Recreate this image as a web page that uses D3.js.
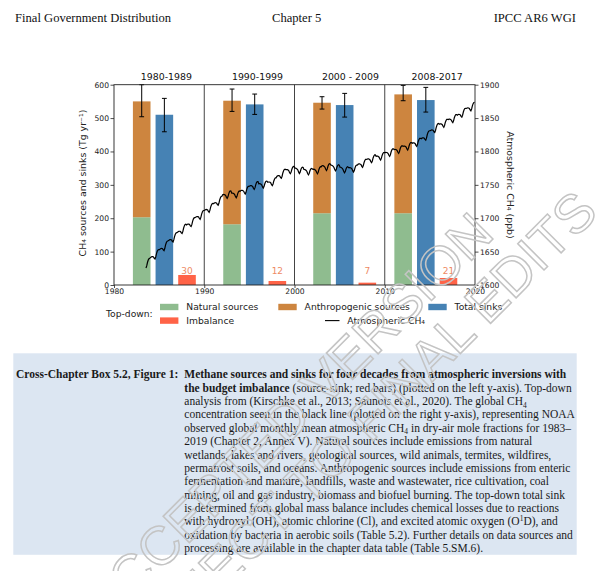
<!DOCTYPE html>
<html><head><meta charset="utf-8">
<script src="https://cdn.jsdelivr.net/npm/d3@7"></script>
<style>body{margin:0;background:#fff}svg{display:block}</style>
</head><body><svg id="c" width="600" height="571"></svg>
<script>
// ---------------- data ----------------
const periods = ["1980-1989", "1990-1999", "2000 - 2009", "2008-2017"];
const natural = [203, 182, 215, 215];
const sourcesTotal = [550, 552, 546, 571];
const sourcesErr = [[504, 600], [520, 587], [527, 564], [552, 598]];
const sinks = [510, 541, 539, 554];
const sinksErr = [[459, 559], [511, 572], [503, 574], [518, 592]];
const imbalance = [30, 12, 7, 21];
const barYear = [1983.07, 1993.08, 2003.05, 2012.04];   // centre of the sources bar
const titleYear = [1985.8, 1995.9, 2006.2, 2015.8];
const dividers = [1990, 2000, 2010];
const xTicks = [1980, 1990, 2000, 2010, 2020];
const yTicks = [0, 100, 200, 300, 400, 500, 600];
const yRTicks = [1600, 1650, 1700, 1750, 1800, 1850, 1900];
const ch4Start = [1983, 7]; // first month of the monthly record
const ch4Monthly = [
  1625.5, 1628.6, 1633.7, 1637.3, 1639.4, 1640,
  1641, 1642, 1642.5, 1642.5, 1642, 1640, 1639, 1642, 1647, 1650.5, 1652.5, 1653,
  1653, 1654.1, 1654.7, 1654.8, 1654.4, 1652.5, 1651.5, 1654.6, 1659.7, 1663.3, 1665.4, 1666,
  1666.5, 1667.5, 1668, 1668, 1667.5, 1665.5, 1664.5, 1667.5, 1672.5, 1676, 1678, 1678.5,
  1679, 1680, 1680.5, 1680.5, 1680, 1678, 1677, 1680, 1685, 1688.5, 1690.5, 1691,
  1690, 1690.9, 1691.3, 1691.2, 1690.6, 1688.5, 1687.5, 1690.4, 1695.3, 1698.7, 1700.6, 1701,
  1701.4, 1702.3, 1702.6, 1702.4, 1701.8, 1699.6, 1698.4, 1701.3, 1706.1, 1709.4, 1711.3, 1711.6,
  1711.9, 1712.8, 1713.1, 1712.9, 1712.3, 1710.1, 1708.9, 1711.8, 1716.6, 1719.9, 1721.8, 1722.1,
  1722, 1722.9, 1723.3, 1723.2, 1722.6, 1720.5, 1719.5, 1722.4, 1727.3, 1730.7, 1732.6, 1733,
  1735.2, 1735.6, 1735.5, 1735, 1733.9, 1731.3, 1729.7, 1732.1, 1736.5, 1739.5, 1740.9, 1740.8,
  1737.6, 1737.8, 1737.4, 1736.6, 1735.3, 1732.4, 1730.6, 1732.8, 1736.9, 1739.6, 1740.8, 1740.4,
  1741.3, 1741.8, 1741.8, 1741.3, 1740.3, 1737.8, 1736.3, 1738.8, 1743.3, 1746.3, 1747.8, 1747.8,
  1748.3, 1748.8, 1748.8, 1748.3, 1747.3, 1744.8, 1743.3, 1745.8, 1750.3, 1753.3, 1754.8, 1754.8,
  1751.6, 1751.9, 1751.6, 1750.9, 1749.6, 1746.9, 1745.1, 1747.4, 1751.6, 1754.4, 1755.6, 1755.4,
  1753.8, 1754.3, 1754.3, 1753.8, 1752.8, 1750.3, 1748.8, 1751.3, 1755.8, 1758.8, 1760.3, 1760.3,
  1762.5, 1763.4, 1763.8, 1763.7, 1763.1, 1761, 1760, 1762.9, 1767.8, 1771.2, 1773.1, 1773.5,
  1772.7, 1773, 1772.8, 1772.2, 1771, 1768.3, 1766.7, 1769, 1773.3, 1776.2, 1777.5, 1777.3,
  1775, 1775, 1774.5, 1773.5, 1772, 1769, 1767, 1769, 1773, 1775.5, 1776.5, 1776,
  1773, 1773, 1772.5, 1771.5, 1770, 1767, 1765, 1767, 1771, 1773.5, 1774.5, 1774,
  1773.1, 1773.4, 1773.1, 1772.4, 1771.1, 1768.4, 1766.6, 1768.9, 1773.1, 1775.9, 1777.1, 1776.9,
  1778.6, 1778.8, 1778.4, 1777.6, 1776.3, 1773.4, 1771.6, 1773.8, 1777.9, 1780.6, 1781.8, 1781.4,
  1779.5, 1779.4, 1778.8, 1777.7, 1776.1, 1773, 1771, 1772.9, 1776.8, 1779.2, 1780.1, 1779.5,
  1776.5, 1776.4, 1775.8, 1774.7, 1773.1, 1770, 1768, 1769.9, 1773.8, 1776.2, 1777.1, 1776.5,
  1775.6, 1775.9, 1775.6, 1774.9, 1773.6, 1770.9, 1769.1, 1771.4, 1775.6, 1778.4, 1779.6, 1779.4,
  1780.8, 1781.4, 1781.5, 1781, 1780.1, 1777.7, 1776.3, 1778.9, 1783.5, 1786.5, 1788.1, 1788.2,
  1788.3, 1788.8, 1788.8, 1788.3, 1787.3, 1784.8, 1783.3, 1785.8, 1790.3, 1793.3, 1794.8, 1794.8,
  1792.7, 1793.1, 1793, 1792.5, 1791.4, 1788.8, 1787.2, 1789.6, 1794, 1797, 1798.4, 1798.3,
  1798.2, 1798.6, 1798.5, 1798, 1796.9, 1794.3, 1792.7, 1795.1, 1799.5, 1802.5, 1803.9, 1803.8,
  1802.7, 1803.1, 1803, 1802.5, 1801.4, 1798.8, 1797.2, 1799.6, 1804, 1807, 1808.4, 1808.3,
  1807.7, 1808.1, 1808, 1807.5, 1806.4, 1803.8, 1802.2, 1804.6, 1809, 1812, 1813.4, 1813.3,
  1812.3, 1812.9, 1813, 1812.5, 1811.6, 1809.2, 1807.8, 1810.4, 1815, 1818, 1819.6, 1819.7,
  1819, 1820, 1820.5, 1820.5, 1820, 1818, 1817, 1820, 1825, 1828.5, 1830.5, 1831,
  1831, 1831.9, 1832.3, 1832.2, 1831.6, 1829.5, 1828.5, 1831.4, 1836.3, 1839.7, 1841.6, 1842,
  1840.8, 1841.4, 1841.5, 1841, 1840.1, 1837.7, 1836.3, 1838.9, 1843.5, 1846.5, 1848.1, 1848.2,
  1847.8, 1848.4, 1848.5, 1848, 1847.1, 1844.7, 1843.3, 1845.9, 1850.5, 1853.5, 1855.1, 1855.2,
  1854.4, 1855.3, 1855.6, 1855.4, 1854.8, 1852.6, 1851.4, 1854.3, 1859.1, 1862.4, 1864.3, 1864.6,
  1864.4, 1865.1, 1865.4, 1865.1, 1864.4, 1862.1, 1860.9, 1863.6, 1868.4, 1871.6, 1873.4, 1873.6
];
const legendItems = [
  {label: "Natural sources", key: "natural"},
  {label: "Anthropogenic sources", key: "anthro"},
  {label: "Total sinks", key: "sinks"},
  {label: "Imbalance", key: "imb"},
  {label: "Atmospheric CH\u2084", key: "line"}
];
const colors = {natural: "#8fbc8f", anthro: "#cd853f", sinks: "#4682b4", imb: "#ff6347", imbText: "#ee8a64", line: "#000"};

const headerTexts = ["Final Government Distribution", "Chapter 5", "IPCC AR6 WGI"];
const captionLabel = "Cross-Chapter Box 5.2, Figure 1:";
const captionLines = [
  [["Methane sources and sinks for four decades from atmospheric inversions with", "b"]],
  [["the budget imbalance", "b"], [" (source-sink; red bars) (plotted on the left y-axis). Top-down", "n"]],
  [["analysis from (Kirschke et al., 2013; Saunois et al., 2020). The global CH", "n"], ["4", "sub"]],
  [["concentration seen in the black line (plotted on the right y-axis), representing NOAA", "n"]],
  [["observed global monthly mean atmospheric CH", "n"], ["4", "sub"], [" in dry-air mole fractions for 1983\u2013", "n"]],
  [["2019 (Chapter 2, Annex V). Natural sources include emissions from natural", "n"]],
  [["wetlands, lakes and rivers, geological sources, wild animals, termites, wildfires,", "n"]],
  [["permafrost soils, and oceans. Anthropogenic sources include emissions from enteric", "n"]],
  [["fermentation and manure, landfills, waste and wastewater, rice cultivation, coal", "n"]],
  [["mining, oil and gas industry, biomass and biofuel burning. The top-down total sink", "n"]],
  [["is determined from global mass balance includes chemical losses due to reactions", "n"]],
  [["with hydroxyl (OH), atomic chlorine (Cl), and excited atomic oxygen (O", "n"], ["1", "sup"], ["D), and", "n"]],
  [["oxidation by bacteria in aerobic soils (Table 5.2). Further details on data sources and", "n"]],
  [["processing are available in the chapter data table (Table 5.SM.6).", "n"]]
];
const watermark = ["ACCEPTED VERSION", "SUBJECT TO FINAL EDITS"];

// ---------------- drawing ----------------
const svg = d3.select("#c");
svg.append("rect").attr("width", 600).attr("height", 571).attr("fill", "#fff");
const SANS = "DejaVu Sans, sans-serif";
const SERIF = "Liberation Serif, Times New Roman, serif";

// header
const hdr = svg.append("g").attr("font-family", SERIF).attr("font-size", 12.6).attr("fill", "#111");
hdr.append("text").attr("x", 15).attr("y", 22.3).text(headerTexts[0]);
hdr.append("text").attr("x", 272).attr("y", 22.3).text(headerTexts[1]);
hdr.append("text").attr("x", 576).attr("y", 22.3).attr("text-anchor", "end").text(headerTexts[2]);

const x = d3.scaleLinear().domain([1980, 2020]).range([114, 475]);
const yL = d3.scaleLinear().domain([0, 600]).range([285, 84.7]);
const yR = d3.scaleLinear().domain([1600, 1900]).range([285, 84.7]);
const barW = x(1981.95) - x(1980);
const step = 2.51;

const plot = svg.append("g");
// bars
periods.forEach((p, i) => {
  const cx = barYear[i];
  plot.append("rect").attr("x", x(cx) - barW / 2).attr("width", barW)
    .attr("y", yL(natural[i])).attr("height", yL(0) - yL(natural[i])).attr("fill", colors.natural);
  plot.append("rect").attr("x", x(cx) - barW / 2).attr("width", barW)
    .attr("y", yL(sourcesTotal[i])).attr("height", yL(natural[i]) - yL(sourcesTotal[i])).attr("fill", colors.anthro);
  plot.append("rect").attr("x", x(cx + step) - barW / 2).attr("width", barW)
    .attr("y", yL(sinks[i])).attr("height", yL(0) - yL(sinks[i])).attr("fill", colors.sinks);
  plot.append("rect").attr("x", x(cx + 2 * step) - barW / 2).attr("width", barW)
    .attr("y", yL(imbalance[i])).attr("height", yL(0) - yL(imbalance[i])).attr("fill", colors.imb);
  // error bars
  [[cx, sourcesErr[i]], [cx + step, sinksErr[i]]].forEach(([c, e]) => {
    const g = plot.append("g").attr("stroke", "#000").attr("stroke-width", 1);
    g.append("line").attr("x1", x(c)).attr("x2", x(c)).attr("y1", yL(e[0])).attr("y2", yL(e[1]));
    e.forEach(v => g.append("line").attr("x1", x(c) - 2.4).attr("x2", x(c) + 2.4).attr("y1", yL(v)).attr("y2", yL(v)));
  });
  // imbalance label
  plot.append("text").attr("x", x(cx + 2 * step)).attr("y", yL(30) - 0.5)
    .attr("text-anchor", "middle").attr("font-family", SANS).attr("font-size", 9)
    .attr("fill", colors.imbText).text(imbalance[i]);
  // period title
  plot.append("text").attr("x", x(titleYear[i])).attr("y", 80)
    .attr("text-anchor", "middle").attr("font-family", SANS).attr("font-size", 9.4)
    .attr("fill", "#111").text(p);
});

// dividers
dividers.forEach(d => plot.append("line").attr("x1", x(d)).attr("x2", x(d))
  .attr("y1", yL(0)).attr("y2", yL(600)).attr("stroke", "#444").attr("stroke-width", 1));

// CH4 line
const ch4 = ch4Monthly.map((v, i) => [ch4Start[0] + (ch4Start[1] - 1 + i + 0.5) / 12, v]);
plot.append("path").datum(ch4)
  .attr("d", d3.line().x(d => x(d[0])).y(d => yR(d[1])))
  .attr("fill", "none").attr("stroke", colors.line).attr("stroke-width", 1.2);

// frame
plot.append("rect").attr("x", x(1980)).attr("y", yL(600))
  .attr("width", x(2020) - x(1980)).attr("height", yL(0) - yL(600))
  .attr("fill", "none").attr("stroke", "#222").attr("stroke-width", 0.9);

function styleAxis(g) {
  g.select(".domain").remove();
  g.selectAll("text").attr("font-family", SANS).attr("font-size", 7.6).attr("fill", "#222");
  g.selectAll("line").attr("stroke", "#222").attr("stroke-width", 0.8);
}
svg.append("g").attr("transform", `translate(${x(1980)},0)`)
  .call(d3.axisLeft(yL).tickValues(yTicks).tickFormat(d3.format("d")).tickSize(3.5).tickPadding(1.5)).call(styleAxis);
svg.append("g").attr("transform", `translate(${x(2020)},0)`)
  .call(d3.axisRight(yR).tickValues(yRTicks).tickFormat(d3.format("d")).tickSize(3.5).tickPadding(1.5)).call(styleAxis);
svg.append("g").attr("transform", `translate(0,${yL(0)})`)
  .call(d3.axisBottom(x).tickValues(xTicks).tickFormat(d3.format("d")).tickSize(3).tickPadding(0.5)).call(styleAxis);

// axis titles
svg.append("text").attr("transform", `translate(86,183) rotate(-90)`)
  .attr("text-anchor", "middle").attr("font-family", SANS).attr("font-size", 9.4).attr("fill", "#222")
  .text("CH\u2084 sources and sinks (Tg yr\u207B\u00B9)");
svg.append("text").attr("transform", `translate(506.5,185) rotate(90)`)
  .attr("text-anchor", "middle").attr("font-family", SANS).attr("font-size", 9.4).attr("fill", "#222")
  .text("Atmospheric CH\u2084 (ppb)");

// legend
const lg = svg.append("g").attr("font-family", SANS).attr("font-size", 9.2).attr("fill", "#222");
lg.append("text").attr("x", 106).attr("y", 317).text("Top-down:");
const legPos = {
  natural: [160, 307], anthro: [278.3, 307], sinks: [428.3, 307], imb: [160, 320.6], line: [325, 320.6]
};
legendItems.forEach(it => {
  const [lx, ly] = legPos[it.key];
  if (it.key === "line") {
    lg.append("line").attr("x1", lx).attr("x2", lx + 14.5).attr("y1", ly).attr("y2", ly)
      .attr("stroke", "#000").attr("stroke-width", 1.1);
    lg.append("text").attr("x", lx + 22.3).attr("y", ly + 3.3).text(it.label);
  } else {
    lg.append("rect").attr("x", lx).attr("y", ly - 3.2).attr("width", 18.4).attr("height", 6.4)
      .attr("fill", colors[it.key]);
    lg.append("text").attr("x", lx + 26.3).attr("y", ly + 3.3).text(it.label);
  }
});

// caption box
svg.append("rect").attr("x", 13.3).attr("y", 353.3).attr("width", 563.4).attr("height", 201.5)
  .attr("fill", "#dce6f2");
const cap = svg.append("g").attr("font-family", SERIF).attr("font-size", 11.5).attr("fill", "#1a1a1a");
cap.append("text").attr("x", 16).attr("y", 378.3).attr("font-weight", "bold").text(captionLabel);
captionLines.forEach((segs, i) => {
  const t = cap.append("text").attr("x", 184.3).attr("y", 378.3 + i * 13.38);
  let shift = 0;
  segs.forEach(([s, st]) => {
    const ts = t.append("tspan").text(s);
    let target = 0;
    if (st === "b") ts.attr("font-weight", "bold");
    if (st === "sub") { ts.attr("font-size", 7.5); target = 2.6; }
    if (st === "sup") { ts.attr("font-size", 7.5); target = -4.2; }
    if (target !== shift) { ts.attr("dy", target - shift); shift = target; }
  });
});

// watermark
const wm = svg.append("g").attr("font-family", "Liberation Sans, Arial, sans-serif")
  .attr("font-size", 54).attr("fill", "none").attr("stroke", "#c4c4c4").attr("stroke-width", 1.5)
  .attr("text-anchor", "end");
wm.append("text").attr("transform", "translate(496,236) rotate(-45)").text(watermark[0]);
wm.append("text").attr("transform", "translate(600,214) rotate(-45)").text(watermark[1]);
</script></body></html>
